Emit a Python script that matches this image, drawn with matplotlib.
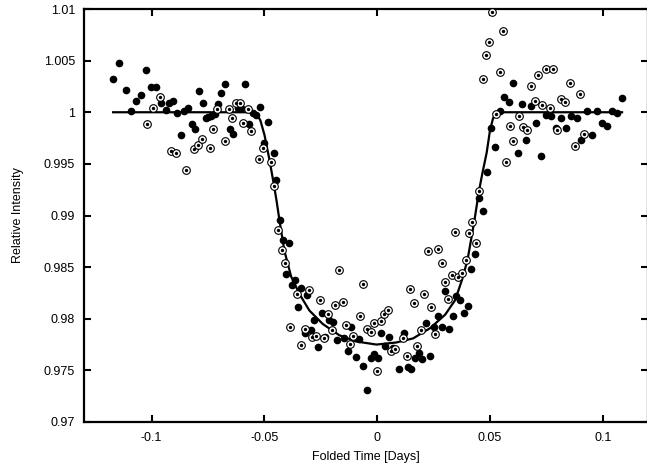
import matplotlib
matplotlib.use("Agg")
import matplotlib.pyplot as plt

plt.rcParams['font.family'] = ['Liberation Sans', 'DejaVu Sans']

# filled points
x_filled = [-0.1171, -0.1143, -0.1115, -0.1093, -0.1071, -0.1049, -0.1024, -0.1004, -0.0981, -0.0959,
            -0.0938, -0.0923, -0.0906, -0.0889, -0.0872, -0.0855, -0.0839, -0.0823, -0.0807, -0.0789,
            -0.0772, -0.0760, -0.0749, -0.0735, -0.0721, -0.0705, -0.0693, -0.0673, -0.0655, -0.0638,
            -0.0619, -0.0604, -0.0588, -0.0570, -0.0550, -0.0537, -0.0522, -0.0503, -0.0486, -0.0459,
            -0.0447, -0.0431, -0.0419, -0.0391, -0.0404, -0.0379, -0.0364, -0.0338, -0.0310, -0.0351,
            -0.0279, -0.0245, -0.0214, -0.0196, -0.0322, -0.0296, -0.0264, -0.0230, -0.0180, -0.0147,
            -0.0131, -0.0115, -0.0094, -0.0080, -0.0063, -0.0047, -0.0030, -0.0015, 0.0003, 0.0018,
            0.0035, 0.0053, 0.0069, 0.0097, 0.0118, 0.0134, 0.0150, 0.0168, 0.0185, 0.0200,
            0.0217, 0.0235, 0.0251, 0.0269, 0.0285, 0.0301, 0.0317, 0.0335, 0.0351, 0.0367,
            0.0384, 0.0400, 0.0417, 0.0434, 0.0468, 0.0450, 0.0485, 0.0524, 0.0506, 0.0543,
            0.0563, 0.0584, 0.0603, 0.0623, 0.0642, 0.0661, 0.0681, 0.0702, 0.0726, 0.0746,
            0.0770, 0.0793, 0.0814, 0.0838, 0.0860, 0.0884, 0.0903, 0.0928, 0.0950, 0.0972,
            0.0996, 0.1018, 0.1040, 0.1063, 0.1085]
y_filled = [1.0032, 1.0048, 1.0022, 1.0001, 1.0011, 1.0017, 1.0041, 1.0024, 1.0024, 1.0009,
            1.0002, 1.0009, 1.0011, 0.9999, 0.9978, 1.0001, 1.0004, 0.9989, 0.9984, 1.0021,
            1.0009, 0.9994, 0.9995, 0.9996, 0.9998, 1.0008, 1.0019, 1.0027, 0.9984, 0.9979,
            1.0004, 1.0004, 1.0027, 0.9989, 0.9999, 0.9997, 1.0005, 0.9970, 0.9991, 0.9961,
            0.9934, 0.9896, 0.9876, 0.9873, 0.9843, 0.9833, 0.9838, 0.9830, 0.9823, 0.9811,
            0.9799, 0.9806, 0.9799, 0.9797, 0.9786, 0.9789, 0.9773, 0.9782, 0.9779, 0.9781,
            0.9769, 0.9792, 0.9763, 0.9780, 0.9754, 0.9731, 0.9762, 0.9766, 0.9762, 0.9786,
            0.9774, 0.9782, 0.9772, 0.9751, 0.9786, 0.9753, 0.9751, 0.9762, 0.9767, 0.9761,
            0.9796, 0.9764, 0.9792, 0.9803, 0.9792, 0.9827, 0.9790, 0.9803, 0.9822, 0.9818,
            0.9806, 0.9812, 0.9848, 0.9863, 0.9904, 0.9917, 0.9942, 0.9966, 0.9985, 1.0001,
            1.0015, 1.0010, 1.0028, 0.9961, 1.0008, 0.9973, 1.0006, 0.9990, 0.9958, 0.9997,
            0.9996, 0.9985, 0.9994, 0.9985, 0.9996, 0.9994, 0.9973, 1.0001, 0.9978, 1.0001,
            0.9990, 0.9987, 1.0001, 0.9999, 1.0014]

# circled points
x_open = [-0.1019, -0.0995, -0.0965, -0.0915, -0.0893, -0.0847, -0.0812, -0.0794, -0.0777, -0.0743,
          -0.0727, -0.0710, -0.0676, -0.0658, -0.0642, -0.0626, -0.0607, -0.0593, -0.0574, -0.0558,
          -0.0524, -0.0508, -0.0473, -0.0456, -0.0441, -0.0424, -0.0407, -0.0389, -0.0355, -0.0339,
          -0.0322, -0.0304, -0.0288, -0.0270, -0.0255, -0.0238, -0.0220, -0.0202, -0.0186, -0.0171,
          -0.0154, -0.0137, -0.0123, -0.0106, -0.0077, -0.0062, -0.0047, -0.0030, -0.0016, 0.0000,
          0.0016, 0.0031, 0.0046, 0.0061, 0.0080, 0.0112, 0.0130, 0.0147, 0.0164, 0.0178,
          0.0193, 0.0209, 0.0224, 0.0239, 0.0254, 0.0270, 0.0285, 0.0300, 0.0314, 0.0331,
          0.0345, 0.0360, 0.0375, 0.0392, 0.0405, 0.0420, 0.0437, 0.0453, 0.0469, 0.0482,
          0.0496, 0.0510, 0.0525, 0.0543, 0.0556, 0.0572, 0.0590, 0.0602, 0.0630, 0.0646,
          0.0664, 0.0681, 0.0699, 0.0714, 0.0731, 0.0746, 0.0766, 0.0780, 0.0798, 0.0814,
          0.0832, 0.0855, 0.0877, 0.0898, 0.0917]
y_open = [0.9989, 1.0004, 1.0015, 0.9962, 0.9961, 0.9944, 0.9964, 0.9968, 0.9974, 0.9965,
          0.9984, 1.0003, 0.9972, 1.0003, 0.9994, 1.0009, 1.0009, 0.9990, 1.0003, 0.9982,
          0.9955, 0.9965, 0.9952, 0.9929, 0.9886, 0.9867, 0.9854, 0.9792, 0.9824, 0.9775,
          0.9790, 0.9828, 0.9782, 0.9783, 0.9818, 0.9781, 0.9805, 0.9789, 0.9813, 0.9847,
          0.9816, 0.9794, 0.9776, 0.9783, 0.9803, 0.9834, 0.9790, 0.9787, 0.9796, 0.9749,
          0.9798, 0.9805, 0.9808, 0.9769, 0.9771, 0.9781, 0.9764, 0.9829, 0.9815, 0.9774,
          0.9789, 0.9824, 0.9866, 0.9811, 0.9785, 0.9868, 0.9854, 0.9836, 0.9819, 0.9842,
          0.9884, 0.9840, 0.9844, 0.9857, 0.9883, 0.9894, 0.9873, 0.9924, 1.0032, 1.0055,
          1.0068, 1.0097, 0.9998, 1.0039, 1.0079, 0.9952, 0.9987, 0.9972, 0.9996, 0.9986,
          0.9983, 1.0025, 1.0011, 1.0036, 1.0007, 1.0042, 1.0004, 1.0042, 0.9983, 1.0013,
          1.0010, 1.0028, 0.9967, 1.0018, 0.9979]

# transit model curve
x_model = [-0.1171, -0.0544, -0.0531, -0.0518, -0.0500, -0.0478, -0.0460, -0.0447, -0.0434, -0.0412,
           -0.0382, -0.0345, -0.0301, -0.0242, -0.0168, -0.0094, -0.0004, 0.0084, 0.0159, 0.0235,
           0.0301, 0.0345, 0.0376, 0.0400, 0.0429, 0.0451, 0.0466, 0.0485, 0.0500, 0.0513,
           0.0527, 0.0540, 0.1085]
y_model = [1.0000, 1.0000, 0.9997, 0.9992, 0.9978, 0.9954, 0.9932, 0.9915, 0.9896, 0.9866,
           0.9841, 0.9824, 0.9808, 0.9795, 0.9784, 0.9778, 0.9775, 0.9777, 0.9781, 0.9791,
           0.9804, 0.9818, 0.9838, 0.9857, 0.9893, 0.9924, 0.9941, 0.9961, 0.9983, 0.9994,
           0.9999, 1.0000, 1.0000]

xticks = [-0.1, -0.05, 0, 0.05, 0.1]
xtick_labels = ['-0.1', '-0.05', '0', '0.05', '0.1']
yticks = [0.97, 0.975, 0.98, 0.985, 0.99, 0.995, 1.0, 1.005, 1.01]
ytick_labels = ['0.97', '0.975', '0.98', '0.985', '0.99', '0.995', '1', '1.005', '1.01']

fig = plt.figure(figsize=(6.47, 4.68), dpi=100)
ax = fig.add_axes([84/647, 46/468, 564/647, 413/468])

ax.plot(x_model, y_model, color='black', linewidth=1.6, zorder=2)
ax.plot(x_filled, y_filled, 'o', color='black', markersize=4.5, zorder=3)
ax.plot(x_open, y_open, 'o', markerfacecolor='white', markeredgecolor='black',
        markeredgewidth=0.8, markersize=5.5, zorder=4)
ax.plot(x_open, y_open, 'o', color='black', markersize=1.4, zorder=5)

ax.set_xlim(-0.13, 0.12)
ax.set_ylim(0.97, 1.01)
ax.set_xticks(xticks)
ax.set_xticklabels(xtick_labels)
ax.set_yticks(yticks)
ax.set_yticklabels(ytick_labels)
ax.tick_params(direction='in', top=True, right=True, length=5, width=1.5, labelsize=9)
ax.tick_params(axis='x', pad=7)
ax.tick_params(axis='y', pad=6.5)
for s in ax.spines.values():
    s.set_linewidth(1.6)

ax.set_xlabel('Folded Time [Days]', fontsize=9, labelpad=5)
ax.set_ylabel('Relative Intensity', fontsize=9, labelpad=14)

fig.savefig('out.png', dpi=100)
